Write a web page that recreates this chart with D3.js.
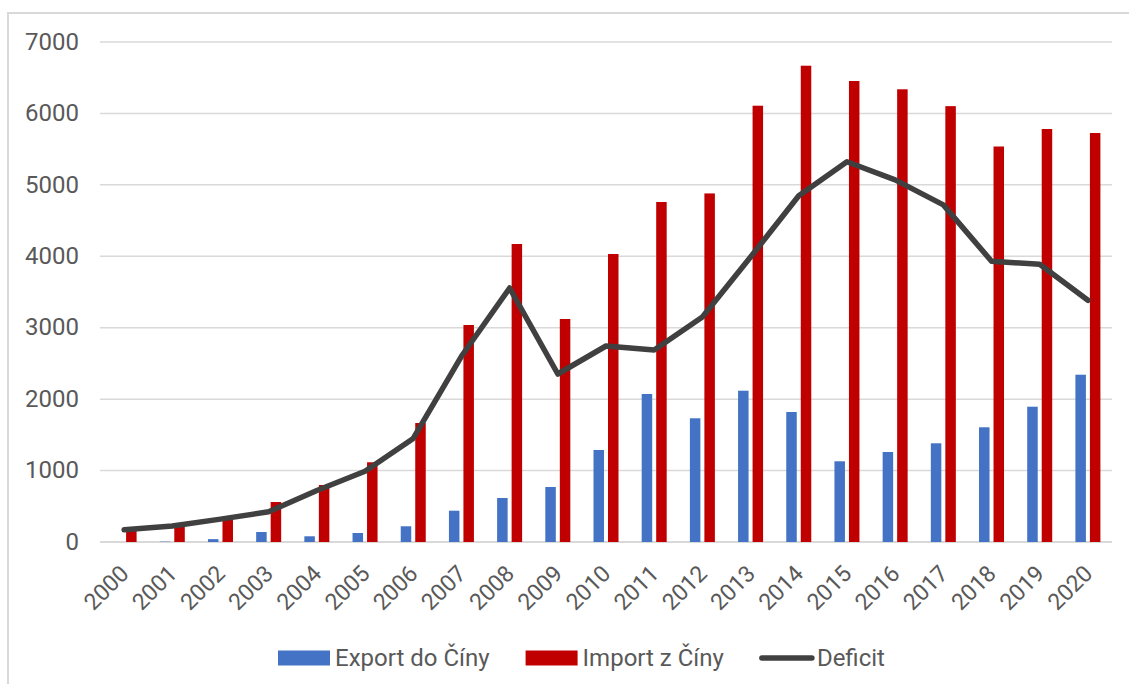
<!DOCTYPE html>
<html>
<head>
<meta charset="utf-8">
<script src="https://cdn.jsdelivr.net/npm/d3@7"></script>
<style>
    body { margin: 0; background: #fff; }
    text { font-family: Roboto, sans-serif; fill: #595959; }
</style>
</head>
<body>
<svg id="canvas" width="1129" height="684"></svg>
<script>
let years = ['2000', '2001', '2002', '2003', '2004', '2005', '2006', '2007', '2008', '2009', '2010',
    '2011', '2012', '2013', '2014', '2015', '2016', '2017', '2018', '2019', '2020']

let exportData = [0, 5, 40, 140, 80, 126, 220, 438, 616, 770, 1288, 2072, 1732, 2118, 1820, 1130, 1260, 1382, 1606, 1894, 2342]
let importData = [175, 230, 360, 560, 798, 1116, 1666, 3038, 4172, 3122, 4032, 4760, 4880, 6108, 6668, 6454, 6338, 6102, 5537, 5782, 5726]
let deficitData = [170, 225, 320, 424, 720, 990, 1450, 2600, 3556, 2352, 2744, 2688, 3150, 3990, 4848, 5324, 5070, 4720, 3931, 3888, 3384]

let yTicks = [0, 1000, 2000, 3000, 4000, 5000, 6000, 7000]

let seriesNames = ['Export do Číny', 'Import z Číny', 'Deficit']
let colors = ['#4472c4', '#c00000', '#404040']

let canvas = d3.select('#canvas')

// chart frame (runs off the right and bottom edge)
canvas.append('path')
    .attr('d', 'M8,700 L8,13 L1140,13')
    .attr('fill', 'none')
    .attr('stroke', '#d9d9d9')
    .attr('stroke-width', 2)

let x = d3.scaleBand()
    .domain(years)
    .range([100, 1112])

let x1 = d3.scaleBand()
    .domain([0, 1])
    .range([0, 25])
    .paddingInner(0.276)

let y = d3.scaleLinear()
    .domain([0, 7000])
    .range([542, 42])

// gridlines
canvas.append('g')
    .selectAll('line')
    .data(yTicks)
    .enter()
    .append('line')
    .attr('x1', 100)
    .attr('x2', 1112)
    .attr('y1', (d) => y(d))
    .attr('y2', (d) => y(d))
    .attr('stroke', '#d9d9d9')
    .attr('stroke-width', (d) => d === 0 ? 2 : 1.5)

// y labels
let yAxis = d3.axisLeft(y)
    .tickValues(yTicks)
    .tickFormat(d3.format('d'))
    .tickSize(0)
    .tickPadding(0)

canvas.append('g')
    .attr('transform', 'translate(79,0)')
    .call(yAxis)
    .call((g) => g.select('.domain').remove())
    .selectAll('text')
    .attr('dy', '0.3em')
    .style('font-size', '24px')
    .style('fill', '#595959')
    .style('font-family', 'Roboto')

// bars
let groups = canvas.append('g')
    .selectAll('g')
    .data(years)
    .enter()
    .append('g')
    .attr('transform', (d) => 'translate(' + (x(d) + x.bandwidth() / 2 - 12.5) + ',0)')

groups.append('rect')
    .attr('x', x1(0))
    .attr('width', x1.bandwidth())
    .attr('y', (d, i) => y(exportData[i]))
    .attr('height', (d, i) => y(0) - y(exportData[i]))
    .attr('fill', colors[0])

groups.append('rect')
    .attr('x', x1(1))
    .attr('width', x1.bandwidth())
    .attr('y', (d, i) => y(importData[i]))
    .attr('height', (d, i) => y(0) - y(importData[i]))
    .attr('fill', colors[1])

// deficit line
let line = d3.line()
    .x((d, i) => x(years[i]) + x.bandwidth() / 2)
    .y((d) => y(d))

canvas.append('path')
    .datum(deficitData)
    .attr('d', line)
    .attr('fill', 'none')
    .attr('stroke', colors[2])
    .attr('stroke-width', 5.5)
    .attr('stroke-linejoin', 'round')
    .attr('stroke-linecap', 'round')

// x labels, rotated
canvas.append('g')
    .selectAll('text')
    .data(years)
    .enter()
    .append('text')
    .attr('transform', (d) => 'translate(' + (x(d) + x.bandwidth() / 2 + 6) + ',575) rotate(-45)')
    .attr('text-anchor', 'end')
    .style('font-size', '23px')
    .text((d) => d)

// legend
let legend = canvas.append('g')
let lx = 278
let ly = 658

seriesNames.forEach((name, i) => {
    if (i < 2) {
        legend.append('rect')
            .attr('x', lx)
            .attr('y', ly - 7.5)
            .attr('width', 52)
            .attr('height', 15)
            .attr('fill', colors[i])
    } else {
        legend.append('line')
            .attr('x1', lx + 2)
            .attr('x2', lx + 52)
            .attr('y1', ly)
            .attr('y2', ly)
            .attr('stroke', colors[i])
            .attr('stroke-width', 5.5)
            .attr('stroke-linecap', 'round')
    }
    let t = legend.append('text')
        .attr('x', lx + 57)
        .attr('y', ly)
        .attr('dy', '0.35em')
        .style('font-size', '24px')
        .text(name)
    lx = lx + 57 + t.node().getComputedTextLength() + 36
})
</script>
</body>
</html>
